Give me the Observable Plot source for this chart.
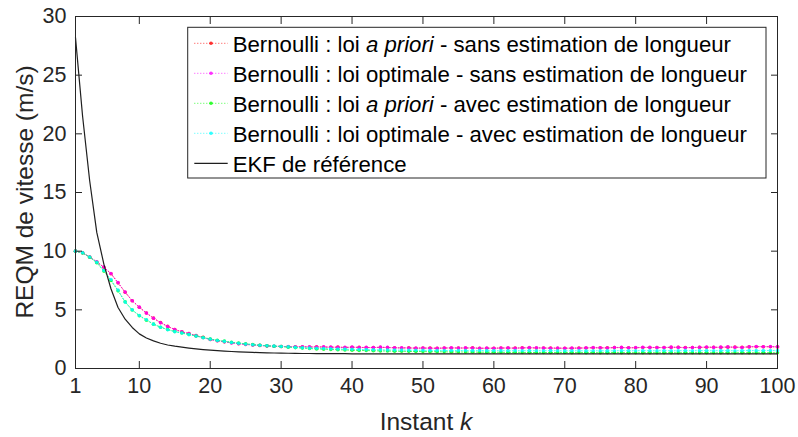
<!DOCTYPE html>
<html><head><meta charset="utf-8">
<script src="https://cdn.jsdelivr.net/npm/d3@7"></script>
<script src="https://cdn.jsdelivr.net/npm/@observablehq/plot@0.6"></script>
<style>body{margin:0;background:#fff;} svg{display:block}</style>
</head><body><div id="chart"></div>
<script>
// Instants k = 1..100
const instants = d3.range(1, 101);

const bernAprioriSans = [
  10.0, 9.87, 9.50, 9.08, 8.62, 8.08, 7.30, 6.50, 5.78, 5.22,
  4.73, 4.29, 3.91, 3.59, 3.33, 3.13, 2.97, 2.80, 2.65, 2.48,
  2.37, 2.27, 2.19, 2.12, 2.06, 2.01, 1.97, 1.93, 1.90, 1.88,
  1.86, 1.85, 1.86, 1.83, 1.84, 1.83, 1.81, 1.82, 1.79, 1.81,
  1.80, 1.78, 1.79, 1.80, 1.78, 1.77, 1.75, 1.76, 1.73, 1.74,
  1.74, 1.73, 1.74, 1.75, 1.75, 1.74, 1.76, 1.72, 1.73, 1.73,
  1.75, 1.74, 1.74, 1.76, 1.76, 1.75, 1.75, 1.74, 1.73, 1.73,
  1.73, 1.75, 1.75, 1.77, 1.76, 1.76, 1.78, 1.78, 1.77, 1.77,
  1.79, 1.79, 1.79, 1.78, 1.80, 1.81, 1.78, 1.79, 1.80, 1.81,
  1.81, 1.80, 1.82, 1.82, 1.80, 1.84, 1.86, 1.86, 1.85, 1.84
];
const bernOptimaleSans = [
  10.0, 9.87, 9.50, 9.10, 8.64, 8.10, 7.32, 6.51, 5.77, 5.23,
  4.72, 4.28, 3.90, 3.58, 3.32, 3.12, 2.98, 2.80, 2.64, 2.47,
  2.36, 2.28, 2.18, 2.11, 2.05, 2.00, 1.96, 1.92, 1.90, 1.88,
  1.87, 1.86, 1.86, 1.84, 1.83, 1.85, 1.82, 1.81, 1.80, 1.83,
  1.79, 1.80, 1.78, 1.82, 1.80, 1.76, 1.77, 1.75, 1.74, 1.75,
  1.73, 1.72, 1.75, 1.77, 1.74, 1.76, 1.75, 1.73, 1.74, 1.72,
  1.74, 1.76, 1.73, 1.75, 1.78, 1.77, 1.74, 1.73, 1.75, 1.72,
  1.74, 1.73, 1.76, 1.78, 1.77, 1.75, 1.79, 1.80, 1.76, 1.78,
  1.81, 1.80, 1.78, 1.79, 1.82, 1.80, 1.77, 1.78, 1.81, 1.83,
  1.80, 1.82, 1.84, 1.81, 1.79, 1.86, 1.88, 1.85, 1.87, 1.86
];
const bernAprioriAvec = [
  10.0, 9.85, 9.48, 9.02, 8.30, 7.50, 6.62, 5.68, 4.98, 4.50,
  4.12, 3.78, 3.52, 3.32, 3.15, 3.02, 2.90, 2.77, 2.64, 2.52,
  2.41, 2.33, 2.24, 2.17, 2.10, 2.04, 1.98, 1.93, 1.90, 1.87,
  1.82, 1.78, 1.74, 1.70, 1.67, 1.65, 1.62, 1.60, 1.58, 1.56,
  1.54, 1.53, 1.51, 1.50, 1.49, 1.48, 1.47, 1.46, 1.45, 1.44,
  1.43, 1.43, 1.42, 1.41, 1.41, 1.40, 1.40, 1.39, 1.39, 1.38,
  1.38, 1.37, 1.38, 1.37, 1.37, 1.36, 1.37, 1.36, 1.36, 1.36,
  1.35, 1.36, 1.35, 1.36, 1.35, 1.35, 1.36, 1.35, 1.35, 1.34,
  1.35, 1.35, 1.34, 1.35, 1.35, 1.34, 1.35, 1.34, 1.35, 1.34,
  1.34, 1.35, 1.34, 1.34, 1.35, 1.34, 1.34, 1.35, 1.34, 1.34
];
const bernOptimaleAvec = [
  10.0, 9.86, 9.50, 9.06, 8.35, 7.58, 6.68, 5.66, 5.00, 4.52,
  4.16, 3.78, 3.52, 3.30, 3.14, 3.02, 2.89, 2.76, 2.62, 2.50,
  2.39, 2.31, 2.22, 2.15, 2.08, 2.03, 1.98, 1.94, 1.91, 1.88,
  1.84, 1.80, 1.77, 1.74, 1.72, 1.70, 1.68, 1.66, 1.65, 1.64,
  1.62, 1.61, 1.60, 1.59, 1.58, 1.57, 1.57, 1.56, 1.55, 1.55,
  1.54, 1.54, 1.53, 1.54, 1.53, 1.53, 1.52, 1.53, 1.52, 1.52,
  1.52, 1.51, 1.52, 1.51, 1.52, 1.51, 1.51, 1.52, 1.51, 1.50,
  1.51, 1.51, 1.50, 1.51, 1.51, 1.50, 1.51, 1.52, 1.51, 1.51,
  1.52, 1.51, 1.51, 1.52, 1.51, 1.51, 1.52, 1.51, 1.52, 1.52,
  1.51, 1.52, 1.52, 1.51, 1.52, 1.53, 1.52, 1.52, 1.53, 1.52
];
const ekfReference = [
  28.2, 21.5, 16.0, 11.6, 8.9, 6.8, 5.2, 4.2, 3.5, 2.95,
  2.60, 2.35, 2.15, 2.00, 1.90, 1.82, 1.74, 1.67, 1.61, 1.56,
  1.52, 1.48, 1.45, 1.42, 1.39, 1.37, 1.35, 1.34, 1.32, 1.31,
  1.30, 1.29, 1.28, 1.28, 1.27, 1.27, 1.26, 1.26, 1.26, 1.25,
  1.25, 1.25, 1.25, 1.25, 1.25, 1.25, 1.25, 1.25, 1.25, 1.25,
  1.25, 1.25, 1.25, 1.25, 1.25, 1.25, 1.25, 1.25, 1.25, 1.25,
  1.25, 1.25, 1.25, 1.25, 1.25, 1.25, 1.25, 1.25, 1.25, 1.25,
  1.25, 1.25, 1.25, 1.25, 1.25, 1.25, 1.25, 1.25, 1.25, 1.25,
  1.25, 1.25, 1.25, 1.25, 1.25, 1.25, 1.25, 1.25, 1.25, 1.25,
  1.25, 1.25, 1.25, 1.25, 1.25, 1.25, 1.25, 1.25, 1.25, 1.25
];

const bernoulliSeries = [bernAprioriSans, bernOptimaleSans, bernAprioriAvec, bernOptimaleAvec];
const bernoulliColors = ["#ff0000", "#ff00ff", "#00ff00", "#00ffff"];
const ekfColor = "#1f1f1f";
// legend labels: [before italic, italic, after italic]
const legendLabels = [
  ["Bernoulli : loi ", "a priori", " - sans estimation de longueur"],
  ["Bernoulli : loi optimale - sans estimation de longueur", "", ""],
  ["Bernoulli : loi ", "a priori", " - avec estimation de longueur"],
  ["Bernoulli : loi optimale - avec estimation de longueur", "", ""],
  ["EKF de référence", "", ""]
];
const xTicks = [1, 10, 20, 30, 40, 50, 60, 70, 80, 90, 100];
const yTicks = [0, 5, 10, 15, 20, 25, 30];
const yLabel = "REQM de vitesse (m/s)";
const xLabelMain = "Instant ";
const xLabelItalic = "k";

const FONT = "'Liberation Sans', Arial, Helvetica, sans-serif";
const axisColor = "#262626";

const toRows = (vals) => vals.map((v, i) => ({k: instants[i], v}));

const marks = [];
bernoulliSeries.forEach((vals, i) => {
  const rows = toRows(vals);
  marks.push(Plot.line(rows, {x: "k", y: "v", stroke: bernoulliColors[i], strokeWidth: 1, strokeDasharray: "1,2", strokeOpacity: 0.75}));
  marks.push(Plot.dot(rows, {x: "k", y: "v", r: 1.8, fill: bernoulliColors[i], fillOpacity: 0.8, stroke: "none"}));
});
marks.push(Plot.line(toRows(ekfReference), {x: "k", y: "v", stroke: ekfColor, strokeWidth: 1.2}));

const chart = Plot.plot({
  width: 798, height: 437,
  marginLeft: 75, marginRight: 21, marginTop: 16, marginBottom: 69,
  x: {domain: [1, 100], label: null},
  y: {domain: [0, 30], label: null},
  style: {fontFamily: FONT, fontSize: "21.5px", color: axisColor, background: "#fff"},
  marks: [
    ...marks,
    Plot.axisX({anchor: "bottom", ticks: xTicks, tickSize: -7, label: null, stroke: axisColor}),
    Plot.axisX({anchor: "top", ticks: xTicks, tickSize: -7, tickFormat: () => "", label: null, stroke: axisColor}),
    Plot.axisY({anchor: "left", ticks: yTicks, tickSize: -7, label: null, stroke: axisColor}),
    Plot.axisY({anchor: "right", ticks: yTicks, tickSize: -7, tickFormat: () => "", label: null, stroke: axisColor}),
    Plot.frame({stroke: axisColor, strokeWidth: 1})
  ]
});
document.getElementById("chart").appendChild(chart);

// Axis labels and legend, anchored to the plot frame
const xs = chart.scale("x"), ys = chart.scale("y");
const fx0 = xs.range[0], fx1 = xs.range[1];
const fy0 = ys.range[1], fy1 = ys.range[0]; // top, bottom
const svg = d3.select(chart);

const xl = svg.append("text")
  .attr("x", (fx0 + fx1) / 2).attr("y", fy1 + 62)
  .attr("text-anchor", "middle").attr("fill", axisColor)
  .style("font-family", FONT).style("font-size", "24.5px");
xl.append("tspan").text(xLabelMain);
xl.append("tspan").style("font-style", "italic").text(xLabelItalic);

svg.append("text")
  .attr("transform", `translate(33,${(fy0 + fy1) / 2}) rotate(-90)`)
  .attr("text-anchor", "middle").attr("fill", axisColor)
  .style("font-family", FONT).style("font-size", "24.5px")
  .text(yLabel);

// legend
const lg = svg.append("g").attr("text-anchor", "start");
const rowH = 30, fontLeg = "22.2px";
const texts = [];
legendLabels.forEach((parts, i) => {
  const t = lg.append("text").attr("y", 0).attr("fill", "#000")
    .attr("text-anchor", "start").style("text-anchor", "start")
    .style("font-family", FONT).style("font-size", fontLeg);
  t.append("tspan").text(parts[0]);
  if (parts[1]) t.append("tspan").style("font-style", "italic").text(parts[1]);
  if (parts[2]) t.append("tspan").text(parts[2]);
  texts.push(t);
});
const maxW = d3.max(texts, t => t.node().getComputedTextLength());
const boxRight = fx1 - 11, boxTop = fy0 + 11.3;
const padL = 45, padR = 19;
const boxW = padL + maxW + padR;
const boxLeft = boxRight - boxW;
lg.insert("rect", ":first-child")
  .attr("x", boxLeft).attr("y", boxTop).attr("width", boxW).attr("height", 150.7)
  .attr("fill", "#fff").attr("stroke", axisColor).attr("stroke-width", 1);
texts.forEach((t, i) => {
  const cy = boxTop + 16 + i * rowH;
  t.attr("x", boxLeft + padL).attr("y", cy + 9);
  const lx0 = boxLeft + 6.6, lx1 = boxLeft + 40;
  if (i < 4) {
    lg.append("line").attr("x1", lx0).attr("x2", lx1).attr("y1", cy).attr("y2", cy)
      .attr("stroke", bernoulliColors[i]).attr("stroke-width", 1).attr("stroke-dasharray", "1,2").attr("stroke-opacity", 0.75);
    lg.append("circle").attr("cx", (lx0 + lx1) / 2).attr("cy", cy).attr("r", 1.8)
      .attr("fill", bernoulliColors[i]).attr("fill-opacity", 0.8);
  } else {
    lg.append("line").attr("x1", lx0).attr("x2", lx1).attr("y1", cy).attr("y2", cy)
      .attr("stroke", ekfColor).attr("stroke-width", 1.2);
  }
});
</script>
</body></html>
